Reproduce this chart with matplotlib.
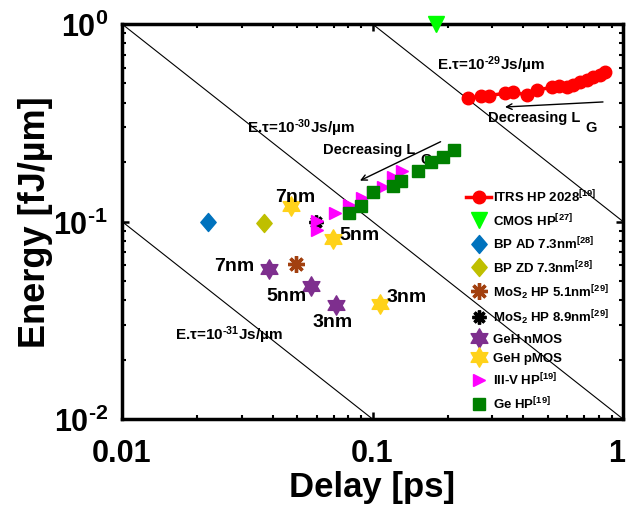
import matplotlib
matplotlib.use("Agg")
import matplotlib.pyplot as plt
from matplotlib.path import Path
from matplotlib.transforms import ScaledTranslation
from matplotlib.ticker import FixedLocator, FixedFormatter, LogLocator, NullFormatter

plt.rcParams['font.family'] = ['Liberation Sans', 'DejaVu Sans']
plt.rcParams['font.weight'] = 'bold'
plt.rcParams['axes.labelweight'] = 'bold'
plt.rcParams['mathtext.fontset'] = 'custom'
plt.rcParams['mathtext.rm'] = 'Liberation Sans:bold'
plt.rcParams['mathtext.it'] = 'Liberation Sans:bold'
plt.rcParams['mathtext.bf'] = 'Liberation Sans:bold'
plt.rcParams['mathtext.sf'] = 'Liberation Sans:bold'

# ---------------- data ----------------
itrs_delay = [0.241, 0.271, 0.292, 0.338, 0.365, 0.413, 0.455, 0.519, 0.557, 0.596,
              0.633, 0.673, 0.716, 0.761, 0.809, 0.848]
itrs_energy = [0.422, 0.430, 0.434, 0.446, 0.451, 0.437, 0.463, 0.478, 0.484, 0.478,
               0.491, 0.507, 0.520, 0.537, 0.552, 0.573]

cmos_delay = [0.179]
cmos_energy = [1.0]

bp_ad_delay = [0.0220]
bp_ad_energy = [0.100]
bp_zd_delay = [0.0369]
bp_zd_energy = [0.098]

mos2_51_delay = [0.0495]
mos2_51_energy = [0.061]
mos2_89_delay = [0.0595]
mos2_89_energy = [0.100]

geh_n_delay = [0.0386, 0.0568, 0.0715]
geh_n_energy = [0.0575, 0.0471, 0.0378]
geh_n_labels = ['7nm', '5nm', '3nm']

geh_p_delay = [0.0473, 0.0696, 0.107]
geh_p_energy = [0.1198, 0.0815, 0.0382]
geh_p_labels = ['7nm', '5nm', '3nm']

iii_v_delay = [0.0600, 0.0600, 0.0708, 0.0806, 0.0908, 0.1005, 0.110, 0.1207, 0.1312]
iii_v_energy = [0.0906, 0.1006, 0.1104, 0.1212, 0.1315, 0.1411, 0.1496, 0.168, 0.180]

ge_delay = [0.0806, 0.0900, 0.1007, 0.1204, 0.130, 0.1515, 0.1712, 0.1917, 0.2115]
ge_energy = [0.110, 0.1202, 0.1406, 0.1508, 0.1598, 0.1808, 0.1994, 0.2114, 0.2301]

# constant energy-delay product lines (fJ*ps/um)
edp_consts = [1e-3, 1e-2, 1e-1]
edp_x = [0.01, 1.0]

HY = '\u2010'  # short hyphen for exponents
x_ticks = [0.01, 0.1, 1]
x_ticklabels = ['0.01', '0.1', '1']
y_ticks = [0.01, 0.1, 1]
y_ticklabels = ['$10^{' + HY + '2}$', '$10^{' + HY + '1}$', '$10^{0}$']

# ---------------- marker shapes ----------------
hexagram = Path.unit_regular_star(6, 0.577)
diamond = Path([(0, 1), (0.85, 0), (0, -1), (-0.85, 0), (0, 1)],
               [Path.MOVETO, Path.LINETO, Path.LINETO, Path.LINETO, Path.CLOSEPOLY])

fig = plt.figure(figsize=(6.28, 5.10), dpi=100)
ax = fig.add_axes([122/628, 1-420/510, (623-122)/628, (420-25)/510])
ax.set_xscale('log')
ax.set_yscale('log')
ax.set_xlim(0.01, 1)
ax.set_ylim(0.01, 1)

for c in edp_consts:
    ax.plot(edp_x, [c/x for x in edp_x], color='black', lw=0.8, zorder=1)

h_itrs, = ax.plot(itrs_delay, itrs_energy, '-o', color='#FF0000', lw=2.5, ms=9,
                  label='ITRS HP 2028$^{[19]}$', zorder=3)
h_cmos, = ax.plot(cmos_delay, cmos_energy, 'v', color='#00FF00', ms=11, ls='none',
                  label='CMOS HP$^{[27]}$', clip_on=False, zorder=5)
h_bpad, = ax.plot(bp_ad_delay, bp_ad_energy, marker=diamond, color='#0072BD', ms=13, ls='none',
                  label='BP AD 7.3nm$^{[28]}$', zorder=3)
h_bpzd, = ax.plot(bp_zd_delay, bp_zd_energy, marker=diamond, color='#BFBF00', ms=13, ls='none',
                  label='BP ZD 7.3nm$^{[28]}$', zorder=3)
h_m51, = ax.plot(mos2_51_delay, mos2_51_energy, marker=(8, 2, 0), color='#A2400F', ms=12, mew=2.4,
                 ls='none', label='MoS$_2$ HP 5.1nm$^{[29]}$', zorder=3)
h_m89, = ax.plot(mos2_89_delay, mos2_89_energy, marker=(8, 2, 0), color='black', ms=10, mew=2.4,
                 ls='none', label='MoS$_2$ HP 8.9nm$^{[29]}$', zorder=3)
h_gn, = ax.plot(geh_n_delay, geh_n_energy, marker=hexagram, color='#7E2F8E', ms=14, ls='none',
                label='GeH nMOS', zorder=3)
h_gp, = ax.plot(geh_p_delay, geh_p_energy, marker=hexagram, color='#FFD21A', ms=14, ls='none',
                label='GeH pMOS', zorder=3)
h_iii, = ax.plot(iii_v_delay, iii_v_energy, '>', color='#FF00FF', ms=8.5, ls='none',
                 label='III-V HP$^{[19]}$', zorder=3)
h_ge, = ax.plot(ge_delay, ge_energy, 's', color='#008000', ms=8.5, ls='none',
                label='Ge HP$^{[19]}$', zorder=4)

# node labels
label_fs = 14
ax.text(0.0490, 0.1346, geh_p_labels[0], fontsize=label_fs, ha='center', va='center')
ax.text(0.0884, 0.0864, geh_p_labels[1], fontsize=label_fs, ha='center', va='center')
ax.text(0.1373, 0.0415, geh_p_labels[2], fontsize=label_fs, ha='center', va='center')
ax.text(0.0281, 0.0602, geh_n_labels[0], fontsize=label_fs, ha='center', va='center')
ax.text(0.0454, 0.0420, geh_n_labels[1], fontsize=label_fs, ha='center', va='center')
ax.text(0.0692, 0.0313, geh_n_labels[2], fontsize=label_fs, ha='center', va='center')

# EDP line labels
ann_fs = 11
ax.text(0.181, 0.627, 'E.τ=10$^{' + HY + '29}$Js/µm', fontsize=ann_fs, ha='left', va='center')
ax.text(0.0316, 0.301, 'E.τ=10$^{' + HY + '30}$Js/µm', fontsize=ann_fs, ha='left', va='center')
ax.text(0.01628, 0.0269, 'E.τ=10$^{' + HY + '31}$Js/µm', fontsize=ann_fs, ha='left', va='center')

# decreasing LG annotations
ax.annotate('', xy=(0.338, 0.380), xytext=(0.832, 0.403),
            arrowprops=dict(arrowstyle='->', lw=1.0, color='black', shrinkA=0, shrinkB=0))
ax.text(0.289, 0.338, 'Decreasing L', fontsize=10.5, ha='left', va='center')
ax.text(0.745, 0.301, 'G', fontsize=10.5, ha='center', va='center')
ax.annotate('', xy=(0.0891, 0.161), xytext=(0.187, 0.2535),
            arrowprops=dict(arrowstyle='->', lw=1.0, color='black', shrinkA=0, shrinkB=0))
ax.text(0.0634, 0.233, 'Decreasing L', fontsize=10.5, ha='left', va='center')
ax.text(0.1636, 0.207, 'G', fontsize=10.5, ha='center', va='center')

# axes styling
for s in ax.spines.values():
    s.set_linewidth(2.5)
ax.xaxis.set_major_locator(FixedLocator(x_ticks))
ax.xaxis.set_major_formatter(FixedFormatter(x_ticklabels))
ax.yaxis.set_major_locator(FixedLocator(y_ticks))
ax.yaxis.set_major_formatter(FixedFormatter(y_ticklabels))
ax.xaxis.set_minor_locator(LogLocator(base=10, subs=range(2, 10)))
ax.yaxis.set_minor_locator(LogLocator(base=10, subs=range(2, 10)))
ax.xaxis.set_minor_formatter(NullFormatter())
ax.yaxis.set_minor_formatter(NullFormatter())
ax.tick_params(which='both', direction='in', top=True, right=True)
ax.tick_params(which='major', length=5, width=1.8, labelsize=22)
ax.tick_params(which='minor', length=3, width=1.5)
ax.tick_params(axis='x', which='major', pad=14)
ax.tick_params(axis='y', which='major', pad=10)

ax.set_xlabel('Delay [ps]', fontsize=25, fontweight='bold', labelpad=1)
ax.set_ylabel('Energy [fJ/µm]', fontsize=26, fontweight='bold', labelpad=0)

handles = [h_itrs, h_cmos, h_bpad, h_bpzd, h_m51, h_m89, h_gn, h_gp, h_iii, h_ge]
leg = ax.legend(handles=handles, loc='upper left', bbox_to_anchor=(466/628, 1-189/510),
                bbox_transform=fig.transFigure, frameon=False, fontsize=9.5,
                handlelength=1.9, handletextpad=0.15, labelspacing=0.52, borderpad=0,
                borderaxespad=0, numpoints=1)

fig.canvas.draw()
last = ax.xaxis.get_major_ticks()[-1].label1
last.set_transform(last.get_transform() + ScaledTranslation(-6/100, 0, fig.dpi_scale_trans))

fig.savefig('out.png', dpi=100)
